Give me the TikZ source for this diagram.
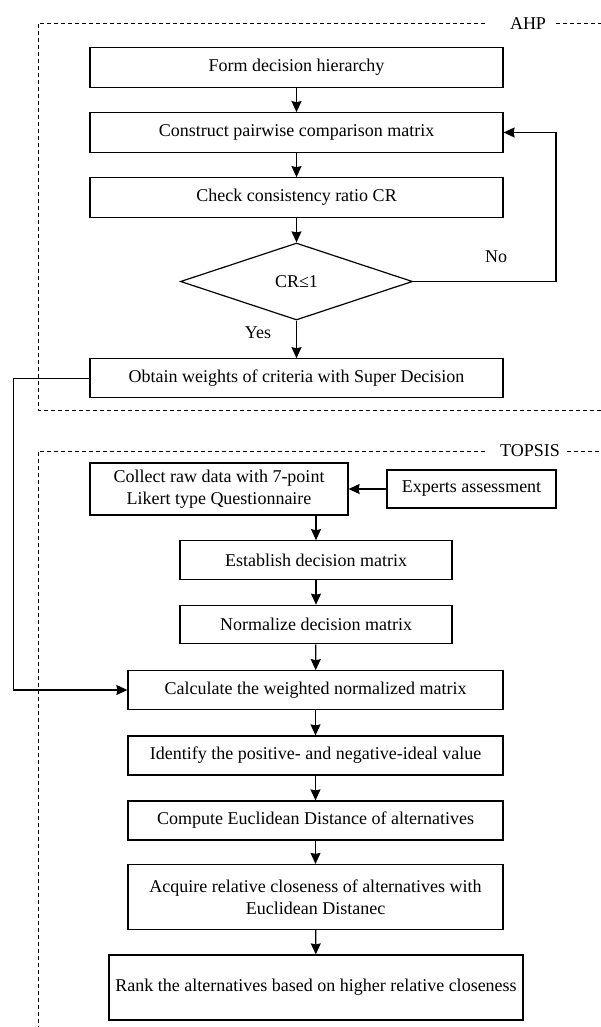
\documentclass[tikz,border=0pt]{standalone}
\usepackage{fontspec}
\setmainfont{Liberation Serif}
\usetikzlibrary{arrows.meta,shapes.geometric}
\begin{document}
\begin{tikzpicture}[x=1pt,y=-1pt,
  box/.style={draw,line width=1.2pt,inner sep=0pt,align=center,font=\fontsize{18}{22}\selectfont},
  lbl/.style={inner sep=0pt,font=\fontsize{18}{22}\selectfont},
  arr/.style={-{Stealth[length=11pt,width=10pt,inset=1pt]},line width=1.2pt},
  frame/.style={dash pattern=on 4pt off 3pt,line width=1pt}]
\useasboundingbox (0,0) rectangle (601,1027);
% AHP frame
\node[lbl] (ahp) at (528,23.3) {AHP};
\coordinate (a1) at (485,23.3);
\coordinate (a2) at (38,23.3);
\coordinate (a3) at (38,410.7);
\coordinate (a4) at (601,410.7);
\coordinate (a5) at (556,23.3);
\coordinate (a6) at (601,23.3);
\draw[frame] (a1) -- (a2) -- (a3) -- (a4);
\draw[frame] (a5) -- (a6);
% TOPSIS frame
\node[lbl] (tops) at (530,451) {TOPSIS};
\coordinate (t1) at (485,451);
\coordinate (t2) at (38,451);
\coordinate (t3) at (38,1027);
\coordinate (t5) at (567,451);
\coordinate (t6) at (601,451);
\draw[frame] (t1) -- (t2) -- (t3);
\draw[frame] (t5) -- (t6);
% AHP boxes
\node[box,minimum width=413,minimum height=39.5] (b1) at (296.5,67.5) {Form decision hierarchy};
\node[box,minimum width=413,minimum height=39.5] (b2) at (296.5,132.5) {Construct pairwise comparison matrix};
\node[box,minimum width=413,minimum height=39.5] (b3) at (296.5,197.5) {Check consistency ratio CR};
\node[box,diamond,minimum width=232,minimum height=77,shape aspect=3] (dia) at (296.5,281.5) {CR≤1};
\node[box,minimum width=413,minimum height=39] (b5) at (296.5,378.3) {Obtain weights of criteria with Super Decision};
\node[lbl] (no) at (496,257) {No};
\node[lbl] (yes) at (258,333) {Yes};
\draw[arr] (b1) -- (b2);
\draw[arr] (b2) -- (b3);
\draw[arr] (b3) -- (dia);
\draw[arr] (dia) -- (b5);
\coordinate (nc) at (556,281.5);
\draw[arr] (dia.east) -- (nc) |- (b2.east);
% TOPSIS boxes
\node[box,minimum width=258,minimum height=52] (c1) at (219,489) {Collect raw data with 7-point\\Likert type Questionnaire};
\node[box,minimum width=169,minimum height=38] (ex) at (471.5,489) {Experts assessment};
\node[box,minimum width=272,minimum height=38.5] (c2) at (316,560) {Establish decision matrix};
\node[box,minimum width=272,minimum height=38.5] (c3) at (316,624.5) {Normalize decision matrix};
\node[box,minimum width=375,minimum height=38.5] (c4) at (315.5,690) {Calculate the weighted normalized matrix};
\node[box,minimum width=375,minimum height=39] (c5) at (315.5,755.5) {Identify the positive- and negative-ideal value};
\node[box,minimum width=375,minimum height=39] (c6) at (315.5,820.5) {Compute Euclidean Distance of alternatives};
\node[box,minimum width=375,minimum height=65] (c7) at (315.5,897) {Acquire relative closeness of alternatives with\\Euclidean Distanec};
\node[box,minimum width=414,minimum height=65] (c8) at (316,987.5) {Rank the alternatives based on higher relative closeness};
\draw[arr] (ex) -- (c1);
\draw[arr] (c1.south -| c2.north) -- (c2);
\draw[arr] (c2) -- (c3);
\draw[arr] (c3) -- (c4);
\draw[arr] (c4) -- (c5);
\draw[arr] (c5) -- (c6);
\draw[arr] (c6) -- (c7);
\draw[arr] (c7) -- (c8);
\coordinate (lc) at (13.4,378.3);
\draw[arr] (b5.west) -- (lc) |- (c4.west);
\end{tikzpicture}
\end{document}
